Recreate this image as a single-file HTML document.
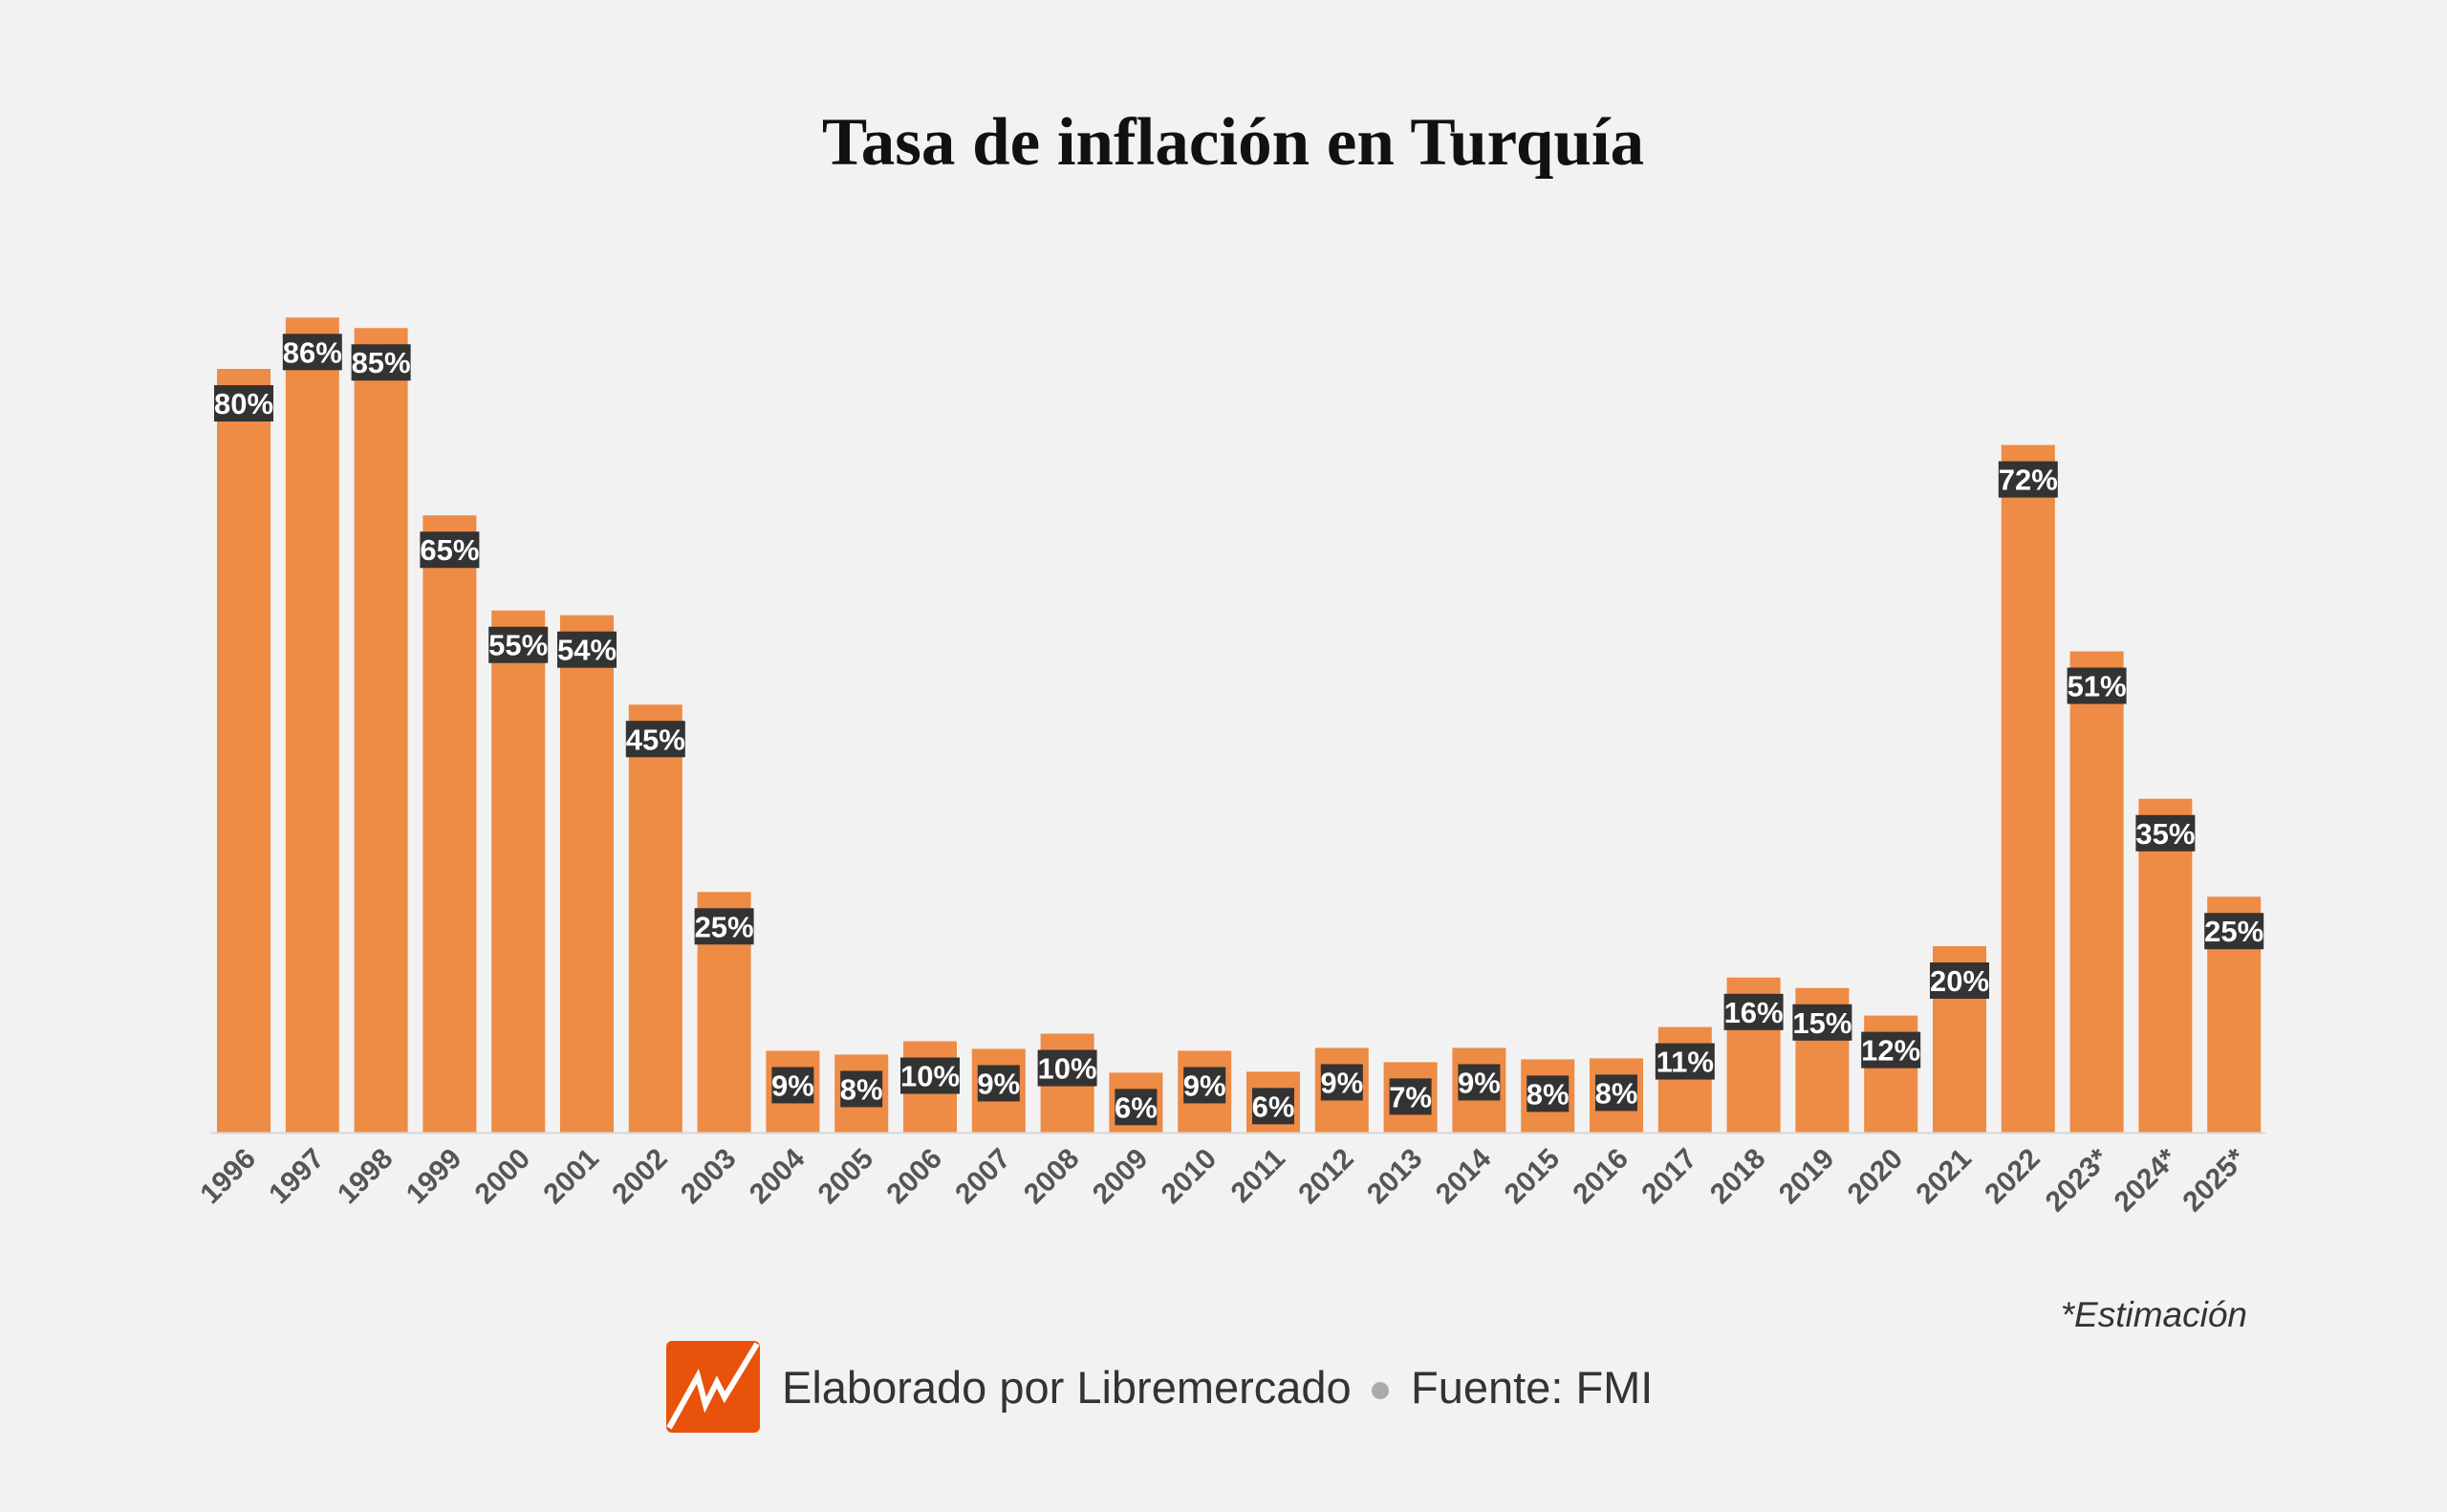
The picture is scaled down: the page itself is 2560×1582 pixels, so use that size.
<!DOCTYPE html>
<html><head><meta charset="utf-8"><style>
html,body{margin:0;padding:0;background:#f2f2f2;}
body{width:2560px;height:1577px;overflow:hidden;position:relative;}
</style></head><body>
<svg width="2560" height="1577" viewBox="0 0 2560 1577" xmlns="http://www.w3.org/2000/svg">
<rect width="2560" height="1577" fill="#f2f2f2"/>
<text x="1290" y="172" text-anchor="middle" font-family="Liberation Serif, serif" font-weight="bold" font-size="71" fill="#111">Tasa de inflación en Turquía</text>
<g id="bars"></g>
<line x1="220" x2="2370" y1="1185.5" y2="1185.5" stroke="#d8d8d8" stroke-width="2"/>
<g id="xlabels"></g>
<text x="2351" y="1388" text-anchor="end" font-family="Liberation Sans, sans-serif" font-style="italic" font-size="37" fill="#333">*Estimación</text>
<g>
<rect x="697" y="1403" width="98" height="96" rx="6" fill="#e8520a"/>
<polyline points="700,1494 730,1440 738,1470 750,1446 758,1462 792,1406" fill="none" stroke="#fff" stroke-width="6"/>
</g>
<text x="818" y="1468" font-family="Liberation Sans, sans-serif" font-size="47" fill="#333">Elaborado por Libremercado</text>
<circle cx="1444" cy="1455" r="9" fill="#aaa"/>
<text x="1476" y="1468" font-family="Liberation Sans, sans-serif" font-size="47" fill="#333">Fuente: FMI</text>
</svg>
<script>
const years = ["1996","1997","1998","1999","2000","2001","2002","2003","2004","2005","2006","2007","2008","2009","2010","2011","2012","2013","2014","2015","2016","2017","2018","2019","2020","2021","2022","2023*","2024*","2025*"];
const inflation = [80.3,85.7,84.6,64.9,54.9,54.4,45.0,25.3,8.6,8.2,9.6,8.8,10.4,6.3,8.6,6.4,8.9,7.4,8.9,7.7,7.8,11.1,16.3,15.2,12.3,19.6,72.3,50.6,35.1,24.8];
const NS = "http://www.w3.org/2000/svg";
const baseY = 1185, pxPer = 9.95, x0 = 255, step = 71.8, bw = 56;
const xPos = i => x0 + i * step;
const yPos = v => baseY - v * pxPer;
const bars = document.getElementById('bars');
const xl = document.getElementById('xlabels');
years.forEach((yr, i) => {
  const v = inflation[i], cx = xPos(i), top = yPos(v);
  const r = document.createElementNS(NS, 'rect');
  
  
  r.setAttribute('x', cx - bw/2); r.setAttribute('y', top);
  r.setAttribute('width', bw); r.setAttribute('height', baseY - top);
  r.setAttribute('fill', '#ee8b45');
  bars.appendChild(r);
  const label = Math.round(v) + '%';
  const w = label.length * 18 + 8;
  const bc = top + 36;
  const b = document.createElementNS(NS, 'rect');
  
  
  b.setAttribute('x', cx - w/2); b.setAttribute('y', bc - 19);
  b.setAttribute('width', w); b.setAttribute('height', 38);
  b.setAttribute('fill', '#333');
  bars.appendChild(b);
  const t = document.createElementNS(NS, 'text');
  
  
  t.setAttribute('x', cx); t.setAttribute('y', bc + 11);
  t.setAttribute('text-anchor', 'middle');
  t.setAttribute('font-family', 'Liberation Sans, sans-serif');
  t.setAttribute('font-weight', 'bold'); t.setAttribute('font-size', '31');
  t.setAttribute('fill', '#fff');
  t.textContent = label;
  bars.appendChild(t);
  const yt = document.createElementNS(NS, 'text');
  
  
  const ax = cx + 14, ay = 1214;
  yt.setAttribute('x', ax); yt.setAttribute('y', ay);
  yt.setAttribute('text-anchor', 'end');
  yt.setAttribute('transform', 'rotate(-45 ' + ax + ' ' + ay + ')');
  yt.setAttribute('font-family', 'Liberation Sans, sans-serif');
  yt.setAttribute('font-weight', 'bold'); yt.setAttribute('font-size', '30');
  yt.setAttribute('fill', '#555');
  yt.textContent = yr;
  xl.appendChild(yt);
});
</script>
</body></html>
